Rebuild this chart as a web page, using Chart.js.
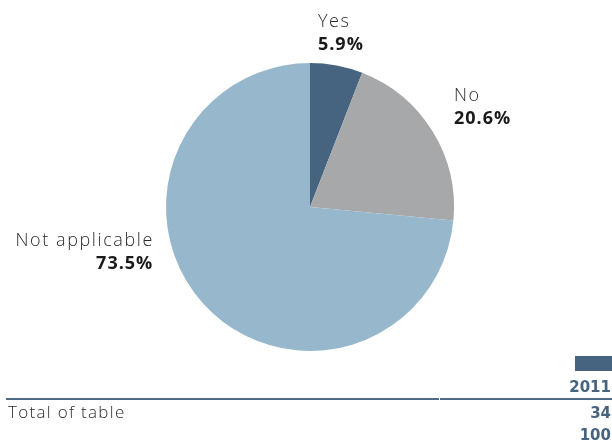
<!DOCTYPE html>
<html>
<head>
<meta charset="utf-8">
<script src="https://cdn.jsdelivr.net/npm/chart.js@4"></script>
<style>
  html, body { margin: 0; padding: 0; background: #fff; }
  #wrap { position: relative; width: 612px; height: 447px; overflow: hidden; font-family: "Open Sans", sans-serif; }
  #pie { position: absolute; left: 0; top: 0; }
  .swatch { position: absolute; left: 575px; top: 356px; width: 37px; height: 15px; background: #46637f; }
  .rule { position: absolute; top: 398px; height: 2px; background: #4f6a85; }
  .txt { position: absolute; line-height: 20px; white-space: nowrap; }
  .num { right: 1px; font-family: "DejaVu Sans", sans-serif; font-weight: 700; font-size: 15px; color: #46637f; text-align: right; }
  .row { left: 8px; font-size: 17px; font-weight: 300; letter-spacing: 1.3px; color: #2b2b2b; }
</style>
</head>
<body>
<div id="wrap">
  <canvas id="pie" width="612" height="447"></canvas>
  <div class="swatch"></div>
  <div class="txt num" id="yearLbl" style="top:377px;"></div>
  <div class="rule" style="left:6px; width:433px;"></div>
  <div class="rule" style="left:440px; width:172px;"></div>
  <div class="txt row" id="rowLbl" style="top:402px;"></div>
  <div class="txt num" id="rowCount" style="top:403px;"></div>
  <div class="txt num" id="rowPct" style="top:425px;"></div>
</div>
<script>
// Survey answers and their shares (percent)
const categories = ["Yes", "No", "Not applicable"];
const shares = [5.9, 20.6, 73.5];
const sliceColors = ["#46637f", "#a7a8aa", "#97b8cc"];

// Summary row under the pie
const yearLabel = "2011";
const totalLabel = "Total of table";
const totalCount = 34;
const totalPercent = 100;

document.getElementById("yearLbl").textContent = yearLabel;
document.getElementById("rowLbl").textContent = totalLabel;
document.getElementById("rowCount").textContent = totalCount;
document.getElementById("rowPct").textContent = totalPercent;

// Where each label sits, relative to the pie centre in units of the radius
const labelSpots = [
  { dx: 0.055, dy: -1.21, align: "left" },
  { dx: 1.0, dy: -0.695, align: "left" },
  { dx: -1.095, dy: 0.31, align: "right" }
];

const sliceLabels = {
  id: "sliceLabels",
  afterDatasetsDraw(chart) {
    const ctx = chart.ctx;
    const arcs = chart.getDatasetMeta(0).data;
    ctx.save();
    ctx.textBaseline = "middle";
    arcs.forEach((arc, i) => {
      const spot = labelSpots[i];
      const r = arc.outerRadius;
      const x = arc.x + spot.dx * r;
      const y = arc.y + spot.dy * r;
      ctx.textAlign = spot.align;
      // right-aligned text carries trailing spacing; shift it back
      const shift = spot.align === "right" ? 1.6 : 0;
      ctx.fillStyle = "#2b2b2b";
      ctx.font = "300 18px 'Open Sans', sans-serif";
      ctx.letterSpacing = "1.6px";
      ctx.fillText(chart.data.labels[i], x + shift, y - 11);
      ctx.fillStyle = "#1a1a1a";
      ctx.font = "700 18px 'Open Sans', sans-serif";
      ctx.letterSpacing = "1px";
      const v = chart.data.datasets[0].data[i];
      ctx.fillText(v.toFixed(1) + "%", x + (spot.align === "right" ? 1 : 0), y + 12);
    });
    ctx.restore();
  }
};

new Chart(document.getElementById("pie"), {
  type: "pie",
  data: {
    labels: categories,
    datasets: [{
      data: shares,
      backgroundColor: sliceColors,
      borderWidth: 0
    }]
  },
  options: {
    responsive: false,
    animation: false,
    layout: { padding: { left: 166, right: 158, top: 63, bottom: 96 } },
    plugins: {
      legend: { display: false },
      tooltip: { enabled: false }
    }
  },
  plugins: [sliceLabels]
});
</script>
</body>
</html>
